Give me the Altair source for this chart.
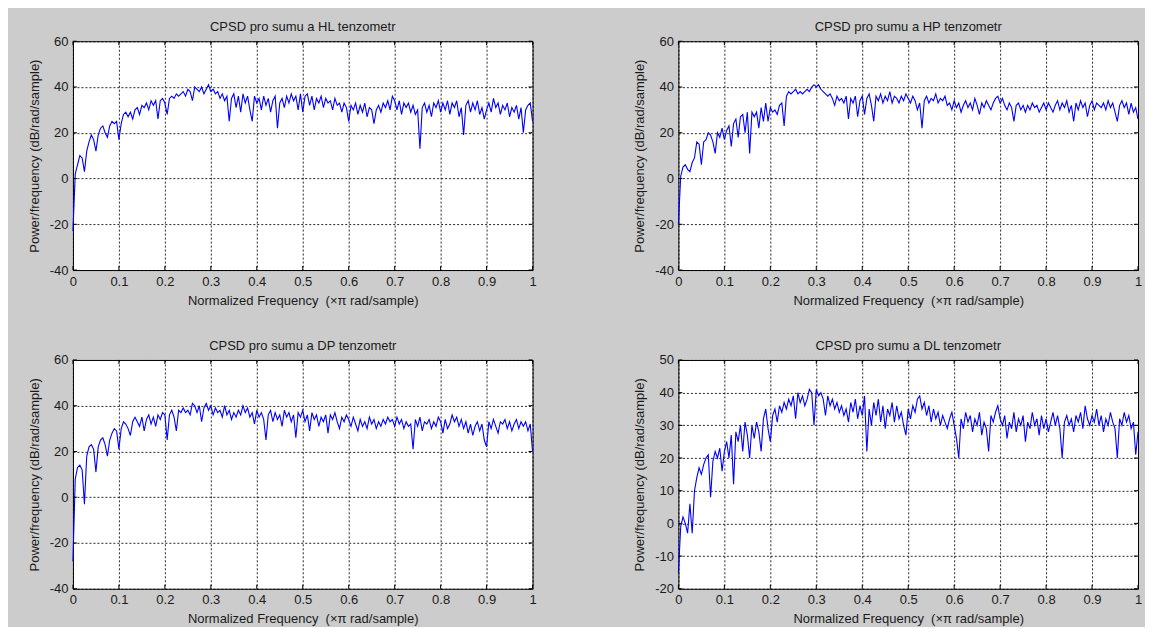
import altair as alt
import numpy as np
import pandas as pd

FONT = "Liberation Sans"
W, H = 460, 229

titles = [
    "CPSD pro sumu a HL tenzometr",
    "CPSD pro sumu a HP tenzometr",
    "CPSD pro sumu a DP tenzometr",
    "CPSD pro sumu a DL tenzometr",
]

x_ticks = [0, 0.1, 0.2, 0.3, 0.4, 0.5, 0.6, 0.7, 0.8, 0.9, 1]
y_ticks_a = [-40, -20, 0, 20, 40, 60]
y_ticks_b = [-20, -10, 0, 10, 20, 30, 40, 50]
y_dom_a = [-40, 60]
y_dom_b = [-20, 50]

hl = [
    -23, 2, 6, 10, 9, 3, 12, 16, 19, 17,
    12, 19, 22, 23, 20, 18, 23, 25, 24, 25,
    17, 24, 28, 29, 27, 29, 26, 30, 31, 28,
    32, 31, 33, 30, 34, 32, 34, 26, 34, 35,
    33, 28, 35, 36, 35, 37, 36, 37, 38, 36,
    39, 38, 34, 40, 39, 38, 40, 37, 39, 41,
    38, 39, 37, 38, 35, 37, 34, 36, 25, 35,
    37, 31, 36, 29, 37, 33, 36, 30, 25, 36,
    33, 35, 30, 36, 32, 35, 29, 34, 36, 22,
    33, 35, 31, 36, 33, 37, 34, 36, 30, 37,
    29, 36, 37, 32, 36, 30, 35, 33, 36, 31,
    35, 33, 34, 30, 35, 32, 33, 29, 33, 31,
    25, 32, 30, 33, 28, 32, 29, 33, 27, 31,
    30, 24, 30, 32, 29, 33, 31, 34, 30, 36,
    34, 30, 34, 28, 33, 31, 33, 29, 32, 28,
    30, 13, 31, 33, 29, 32, 27, 33, 31, 34,
    29, 33, 30, 34, 28, 33, 31, 34, 27, 31,
    19, 32, 34, 29, 33, 30, 34, 28, 31, 26,
    30, 33, 29, 35, 31, 33, 28, 32, 30, 33,
    27, 31, 29, 32, 26, 31, 20, 30, 32, 33,
    25,
]

hp = [
    -20, 1, 5, 6, 4, 3, 7, 9, 16, 15,
    6, 16, 17, 20, 19, 16, 11, 20, 18, 22,
    17, 21, 23, 14, 24, 26, 18, 27, 28, 20,
    29, 11, 29, 27, 29, 22, 31, 25, 33, 25,
    31, 29, 30, 28, 32, 33, 23, 36, 38, 37,
    38, 39, 37, 38, 37, 38, 39, 38, 40, 41,
    40, 41, 39, 38, 37, 36, 37, 35, 32, 36,
    34, 35, 33, 36, 26, 35, 33, 36, 27, 34,
    36, 28, 35, 37, 32, 25, 36, 34, 37, 33,
    36, 34, 38, 33, 36, 35, 33, 36, 34, 37,
    35, 33, 36, 34, 30, 33, 22, 34, 36, 33,
    35, 34, 37, 33, 35, 34, 36, 32, 33, 30,
    34, 31, 33, 29, 32, 34, 31, 33, 30, 35,
    32, 28, 33, 31, 34, 32, 30, 33, 35, 36,
    33, 35, 32, 30, 33, 31, 25, 32, 33, 30,
    32, 29, 32, 30, 33, 31, 32, 29, 31, 33,
    30, 33, 31, 29, 32, 34, 30, 33, 31, 34,
    29, 32, 25, 33, 30, 34, 31, 33, 27, 32,
    34, 30, 33, 32, 31, 33, 30, 34, 31, 33,
    29, 25, 32, 34, 31, 33, 28, 33, 29, 31,
    26,
]

dp = [
    -28, 8, 13, 14, 12, -3, 18, 22, 23, 21,
    11, 22, 25, 26, 23, 18, 25, 28, 30, 29,
    21, 30, 33, 32, 30, 27, 33, 35, 33, 31,
    35, 29, 34, 36, 32, 35, 31, 36, 34, 37,
    36, 25, 36, 38, 35, 29, 38, 37, 39, 37,
    38, 36, 41, 40, 37, 40, 33, 39, 41, 38,
    40, 36, 39, 37, 38, 35, 40, 36, 38, 34,
    37, 35, 38, 36, 40, 37, 39, 35, 37, 32,
    38, 35, 37, 34, 25, 36, 38, 33, 37, 34,
    36, 31, 38, 35, 37, 33, 36, 26, 37, 35,
    38, 33, 36, 29, 37, 34, 36, 31, 35, 33,
    36, 28, 36, 34, 37, 33, 30, 35, 33, 36,
    34, 31, 35, 32, 29, 34, 31, 33, 30, 35,
    32, 34, 30, 33, 31, 34, 32, 35, 33, 34,
    31, 35, 32, 34, 30, 33, 31, 32, 21, 34,
    31, 35, 29, 33, 32, 34, 30, 33, 31, 35,
    33, 28, 34, 30, 32, 36, 33, 35, 31, 34,
    30, 33, 28, 32, 27, 31, 33, 29, 32, 25,
    22, 33, 30, 34, 31, 28, 33, 32, 34, 30,
    33, 29, 32, 34, 30, 33, 31, 33, 29, 32,
    20,
]

dl = [
    -15, -1, 2, 0, -3, 6, -3, 10, 14, 17,
    15, 18, 20, 21, 8, 19, 22, 20, 23, 16,
    22, 25, 20, 27, 12, 28, 25, 30, 22, 31,
    27, 20, 30, 26, 31, 28, 22, 32, 35, 29,
    25, 33, 35, 31, 36, 34, 37, 35, 38, 36,
    39, 32, 40, 37, 39, 36, 38, 41, 40, 30,
    41, 39, 40, 38, 33, 39, 36, 38, 35, 37,
    34, 36, 33, 35, 31, 37, 34, 38, 32, 36,
    33, 39, 22, 35, 30, 37, 33, 38, 31, 36,
    29, 35, 33, 37, 31, 36, 32, 34, 30, 27,
    35, 32, 36, 34, 38, 39, 35, 37, 33, 36,
    31, 35, 32, 34, 30, 33, 31, 29, 32, 34,
    30, 26, 20, 32, 29, 34, 31, 33, 28, 32,
    30, 34, 27, 31, 29, 22, 33, 31, 34, 36,
    32, 30, 33, 26, 31, 29, 34, 28, 32, 30,
    33, 25, 31, 29, 34, 30, 32, 27, 33, 29,
    32, 28, 31, 34, 30, 33, 29, 20, 31, 33,
    30, 32, 28, 33, 31, 34, 29, 36, 32, 30,
    33, 31, 35, 30, 33, 28, 32, 30, 34, 31,
    29, 20, 32, 30, 34, 31, 33, 29, 31, 21,
    28,
]

X_TITLE = "Normalized Frequency\u00a0 (\u00d7\u03c0 rad/sample)"
Y_TITLE = "Power/frequency (dB/rad/sample)"


def panel(title, vals, ydom, yticks):
    freq = np.linspace(0, 1, len(vals))
    df = pd.DataFrame({"f": freq, "p": vals})
    xs = alt.Scale(domain=[0, 1], nice=False, zero=False)
    ys = alt.Scale(domain=ydom, nice=False, zero=False)
    xax = alt.Axis(values=x_ticks, labelExpr="datum.value + ''", title=X_TITLE)
    yax = alt.Axis(values=yticks, labelExpr="datum.value + ''", title=Y_TITLE)
    xenc = alt.X("f:Q", scale=xs, axis=xax)
    yenc = alt.Y("p:Q", scale=ys, axis=yax)
    line = alt.Chart(df).mark_line(color="#0000ff", strokeWidth=1.1).encode(
        x=xenc, y=yenc)
    xt = pd.DataFrame({"f": x_ticks})
    yt = pd.DataFrame({"p": yticks})
    tick_top = alt.Chart(xt).mark_rule(color="#000000", strokeWidth=1).encode(
        x=xenc, y=alt.value(0), y2=alt.value(4))
    tick_bot = alt.Chart(xt).mark_rule(color="#000000", strokeWidth=1).encode(
        x=xenc, y=alt.value(H), y2=alt.value(H - 4))
    tick_left = alt.Chart(yt).mark_rule(color="#000000", strokeWidth=1).encode(
        y=yenc, x=alt.value(0), x2=alt.value(4))
    tick_right = alt.Chart(yt).mark_rule(color="#000000", strokeWidth=1).encode(
        y=yenc, x=alt.value(W - 4), x2=alt.value(W))
    return alt.layer(line, tick_top, tick_bot, tick_left, tick_right).properties(
        width=W, height=H,
        title=alt.TitleParams(title, font=FONT, fontSize=13, fontWeight="normal",
                              color="#1a1a1a", offset=1, anchor="middle"),
    )


p1 = panel(titles[0], hl, y_dom_a, y_ticks_a)
p2 = panel(titles[1], hp, y_dom_a, y_ticks_a)
p3 = panel(titles[2], dp, y_dom_a, y_ticks_a)
p4 = panel(titles[3], dl, y_dom_b, y_ticks_b)

chart = (
    alt.concat(p1, p2, p3, p4, columns=2,
               spacing={"row": 90, "column": 146}, bounds="flush")
    .properties(background="#cccccc",
                padding={"left": 19, "top": 12, "right": 2, "bottom": 0})
    .configure_view(stroke="#000000", strokeWidth=1, fill="#ffffff")
    .configure_axis(labelFont=FONT, labelFontSize=13, labelColor="#1a1a1a",
                    titleFont=FONT, titleFontSize=13, titleFontWeight="normal",
                    titleColor="#1a1a1a", grid=True, gridColor="#000000",
                    gridDash=[2, 2], gridOpacity=0.85, gridWidth=1,
                    domain=False, ticks=False, tickSize=0, labelPadding=5,
                    labelFlush=False)
    .configure_axisX(labelPadding=5, titlePadding=6)
    .configure_axisY(titlePadding=8)
)

chart.save("out.html", embed_options={"renderer": "svg", "actions": False})
